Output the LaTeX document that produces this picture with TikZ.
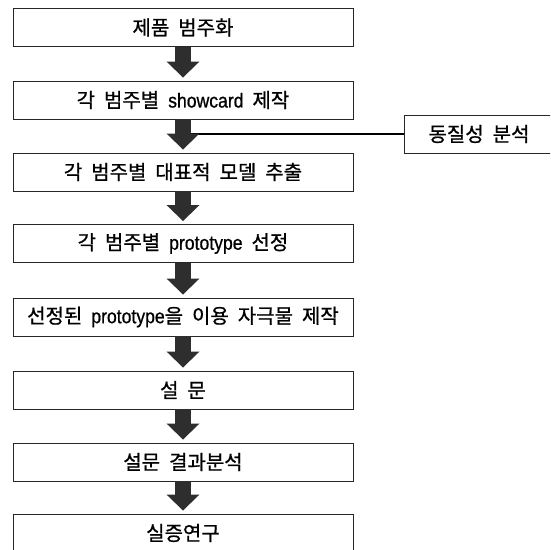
\documentclass[tikz,border=0pt]{standalone}
\usepackage{graphicx}
\usepackage{fontspec}
\setmainfont[WordSpace=2.0, FakeBold=0.8]{Noto Sans CJK KR}
\newfontfamily\latf[FakeBold=0.8]{Liberation Sans}
\newcommand\lt[1]{{\latf\scalebox{0.88}[1]{#1}}}
\usetikzlibrary{arrows.meta}
\tikzset{
  stepbox/.style={draw=black!85, line width=0.9pt, minimum width=340pt, minimum height=38pt,
    inner sep=0pt, font=\fontsize{20}{22}\selectfont},
  flow/.style={line width=16pt, draw=black!82, -{Triangle[width=32pt,length=16pt]}, shorten >=3pt},
  link/.style={line width=2.4pt, draw=black}
}
\begin{document}
\begin{tikzpicture}[x=1pt,y=-1pt]
\clip (0,0) rectangle (550,550);
\fill[white] (0,0) rectangle (550,550);
\node[stepbox] (b1) at (183,27.5) {제품 범주화};
\node[stepbox] (b2) at (183,100) {각 범주별 \lt{showcard} 제작};
\node[stepbox] (b3) at (183,172) {각 범주별 대표적 모델 추출};
\node[stepbox] (b4) at (183,243.5) {각 범주별 \lt{prototype} 선정};
\node[stepbox] (b5) at (183,317) {선정된 \lt{prototype}을 이용 자극물 제작};
\node[stepbox] (b6) at (183,390) {설 문};
\node[stepbox] (b7) at (183,462) {설문 결과분석};
\node[stepbox] (b8) at (183,533) {실증연구};
\node[stepbox, minimum width=150pt] (hb) at (479,134) {동질성 분석};
\coordinate (j) at (b2.south |- hb.west);
\draw[link] (j) -- (hb.west);
\draw[flow] (b1) -- (b2);
\draw[flow] (b2) -- (b3);
\draw[flow] (b3) -- (b4);
\draw[flow] (b4) -- (b5);
\draw[flow] (b5) -- (b6);
\draw[flow] (b6) -- (b7);
\draw[flow] (b7) -- (b8);
\end{tikzpicture}
\end{document}
